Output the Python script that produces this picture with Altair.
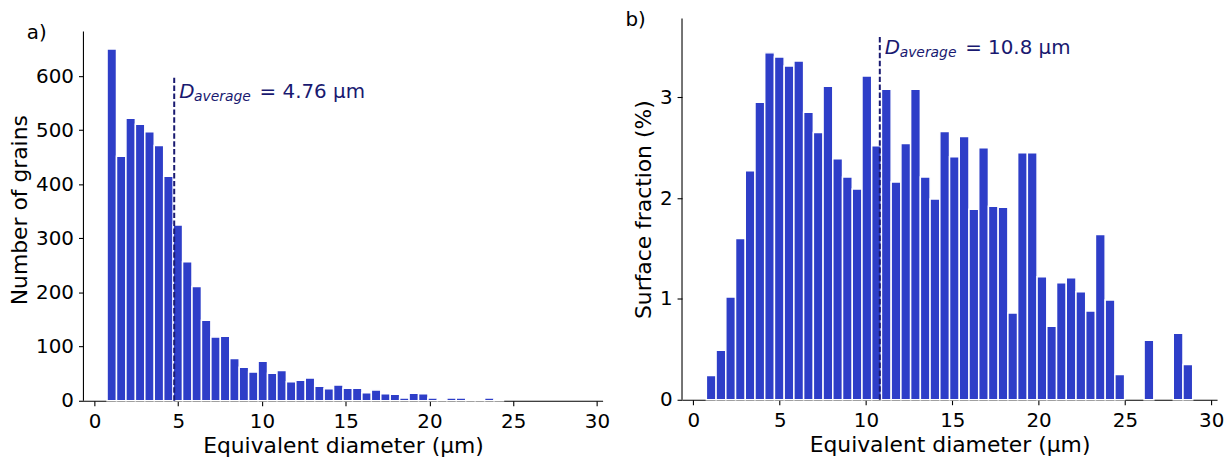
import altair as alt
import numpy as np
import pandas as pd

# ---- data -------------------------------------------------------------
bin_lo = 0.75          # first bin edge (µm)
bin_hi = 28.93         # last bin edge (µm)
n_bins = 50

grain_counts = [650, 452, 522, 511, 497, 472, 415, 325, 257, 211,
                149, 118, 119, 78, 62, 53, 73, 51, 56, 35,
                38, 42, 27, 22, 29, 23, 23, 15, 20, 13,
                12, 5, 14, 13, 5, 2, 5, 5, 3, 3,
                5, 2, 0, 0, 0, 0, 0, 0, 0, 0]

surface_fraction = [0.24, 0.49, 1.02, 1.60, 2.27, 2.95, 3.44, 3.40, 3.31, 3.36,
                    2.85, 2.65, 3.11, 2.39, 2.21, 2.09, 3.21, 2.52, 3.08, 2.16,
                    2.54, 3.08, 2.21, 1.99, 2.66, 2.41, 2.61, 1.89, 2.50, 1.92,
                    1.91, 0.86, 2.45, 2.45, 1.22, 0.73, 1.16, 1.21, 1.07, 0.88,
                    1.64, 0.99, 0.25, 0.00, 0.00, 0.59, 0.00, 0.00, 0.66, 0.35]

d_avg_a = 4.76
d_avg_b = 10.8
line_top_a = 600
line_top_b = 3.6
text_y_a = 560
text_y_b = 3.43

x_ticks = [0, 5, 10, 15, 20, 25, 30]
y_ticks_a = [0, 100, 200, 300, 400, 500, 600]
y_ticks_b = [0, 1, 2, 3]
y_axis_top_a = 682.5   # where the left y axis line ends
y_axis_top_b = 3.78

x_title = "Equivalent diameter (µm)"
y_title_a = "Number of grains"
y_title_b = "Surface fraction (%)"

# ---- styles -------------------------------------------------------------
BAR = "#2e3ec8"
NAVY = "#191970"
FONT = "DejaVu Sans"
XDOM = [-0.66, 30.34]

edges = np.linspace(bin_lo, bin_hi, n_bins + 1)
label_y = {"a)": 15, "b)": 1}


def panel(values, ymax, axis_top, yticks, ytitle, davg, ltop, ty, label, width, height):
    df = pd.DataFrame({"start": edges[:-1], "end": edges[1:], "value": values})
    xs = alt.Scale(domain=XDOM, nice=False, zero=False)
    ys = alt.Scale(domain=[0, ymax], nice=False)
    bars = alt.Chart(df).transform_filter("datum.value > 0").mark_bar(
        color=BAR, stroke="white", strokeWidth=1.5
    ).encode(
        x=alt.X("start:Q", scale=xs,
                axis=alt.Axis(values=x_ticks, title=x_title, labelPadding=6,
                              titlePadding=4, format="d")),
        x2="end:Q",
        y=alt.Y("value:Q", scale=ys,
                axis=alt.Axis(values=yticks, title=ytitle, labelPadding=5,
                              titlePadding=4, format="d", domain=False)),
        y2=alt.datum(0),
    )
    adf = pd.DataFrame({"a0": [0], "a1": [axis_top]})
    yline = alt.Chart(adf).mark_rule(color="black", strokeWidth=1.1).encode(
        x=alt.value(0), y="a0:Q", y2="a1:Q")
    ldf = pd.DataFrame({"x": [davg], "y0": [0], "y1": [ltop]})
    rule = alt.Chart(ldf).mark_rule(color=NAVY, strokeDash=[5.5, 2.5], strokeWidth=2).encode(
        x="x:Q", y="y0:Q", y2="y1:Q")
    tdf = pd.DataFrame({"x": [davg], "y": [ty]})
    t_d = alt.Chart(tdf).mark_text(align="left", baseline="alphabetic", dx=5, fontSize=20,
                                   fontStyle="italic", font=FONT, color=NAVY).encode(
        x="x:Q", y="y:Q", text=alt.value("D"))
    t_sub = alt.Chart(tdf).mark_text(align="left", baseline="alphabetic", dx=20, dy=3, fontSize=14,
                                     fontStyle="italic", font=FONT, color=NAVY).encode(
        x="x:Q", y="y:Q", text=alt.value("average"))
    t_val = alt.Chart(tdf).mark_text(align="left", baseline="alphabetic", dx=86, fontSize=20,
                                     font=FONT, color=NAVY).encode(
        x="x:Q", y="y:Q", text=alt.value(f"= {davg} µm"))
    one = pd.DataFrame({"k": [0]})
    lab = alt.Chart(one).mark_text(align="left", baseline="middle", fontSize=20, font=FONT,
                                   color="black").encode(
        x=alt.value(-57), y=alt.value(label_y[label]), text=alt.value(label))
    return alt.layer(bars, rule, t_d, t_sub, t_val, lab, yline).properties(
        width=width, height=height)


left = panel(grain_counts, 682.5 * 385 / 372, y_axis_top_a, y_ticks_a, y_title_a, d_avg_a,
             line_top_a, text_y_a, "a)", 523, 385)
right = panel(surface_fraction, 3.78, y_axis_top_b, y_ticks_b, y_title_b, d_avg_b, line_top_b,
              text_y_b, "b)", 539, 384)

chart = alt.hconcat(left, right, spacing=16).properties(padding=0).configure_view(
    strokeWidth=0
).configure_axis(
    grid=False, domainColor="black", tickColor="black", tickSize=5, domainWidth=1.1,
    tickWidth=1.1, labelFont=FONT, titleFont=FONT, labelFontSize=20, titleFontSize=22,
    titleFontWeight="normal", labelColor="black", titleColor="black", zindex=1
)

chart.save("out.html", embed_options={"renderer": "svg", "actions": False})
